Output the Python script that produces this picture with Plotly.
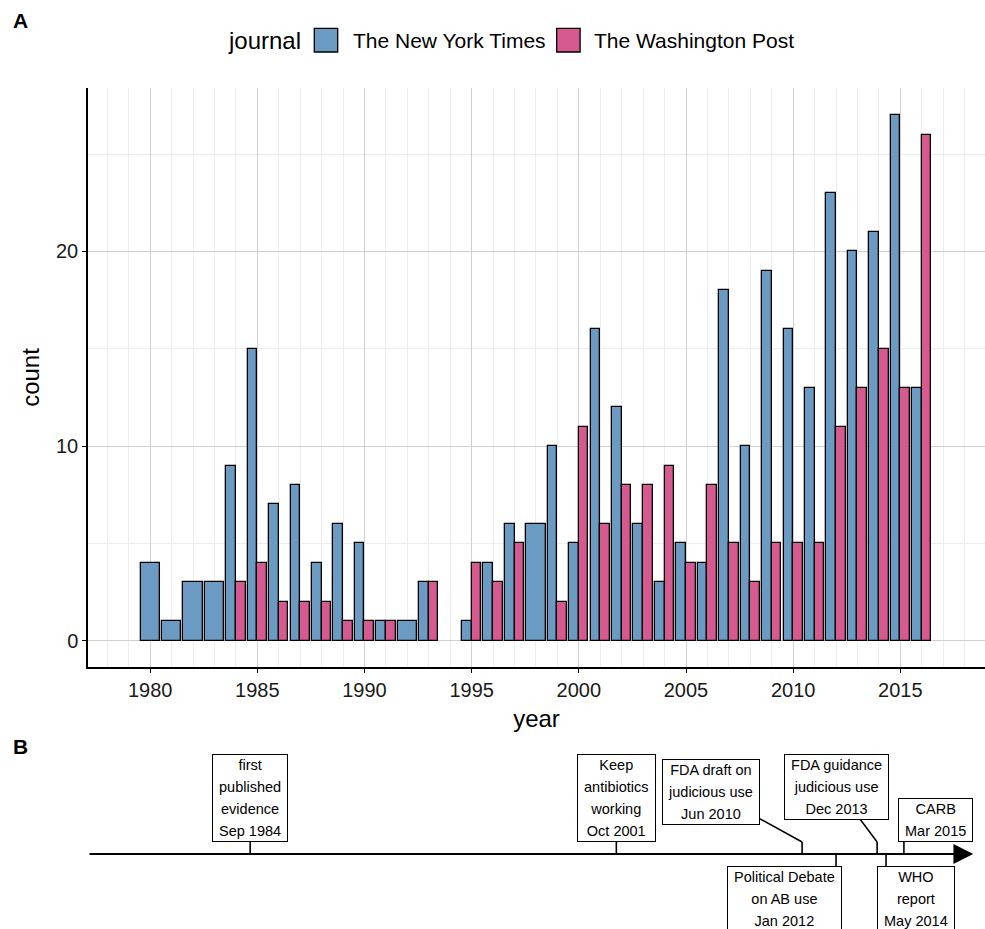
import plotly.graph_objects as go

# ---------------- data ----------------
years = list(range(1980, 2017))
nyt = [4, 1, 3, 3, 9, 15, 7, 8, 4, 6, 5, 1, 1, 3, 0, 1, 4, 6, 6, 10,
       5, 16, 12, 6, 3, 5, 4, 18, 10, 19, 16, 13, 23, 20, 21, 27, 13]
wapo = [0, 0, 0, 0, 3, 4, 2, 2, 2, 1, 1, 1, 0, 3, 0, 4, 3, 5, 0, 2,
        11, 6, 8, 8, 9, 4, 8, 5, 3, 5, 5, 5, 11, 13, 15, 13, 26]
journals = ["The New York Times", "The Washington Post"]

event_labels = [["first", "published", "evidence"],
                ["Keep", "antibiotics", "working"],
                ["FDA draft on", "judicious use"],
                ["Political Debate", "on AB use"],
                ["FDA guidance", "judicious use"],
                ["WHO", "report"],
                ["CARB"]]
event_month_names = ["Sep", "Oct", "Jun", "Jan", "Dec", "May", "Mar"]
event_years = [1984, 2001, 2010, 2012, 2013, 2014, 2015]

# ---------------- style ----------------
colors = ["#6B9BC3", "#D6598F"]
FONT = "Liberation Sans, Arial, sans-serif"
MONTHS = ["Jan", "Feb", "Mar", "Apr", "May", "Jun", "Jul", "Aug", "Sep", "Oct", "Nov", "Dec"]
# label placement: side (+1 above / -1 below), x shift px, arrow offsets (None = straight tick)
label_side = [1, 1, 1, -1, 1, -1, 1]
label_xshift = [0, 0, 0, -52, 0, 30, 32]
label_arrow = [None, None, (-91, -50), None, (-41, -55), None, None]
TICK = 12
XR = [1977.1, 2018.95]
ARROW_END = 2018.4

W, H = 985, 929
ML, MR, MT, MB = 88, 0, 88, 0
PH = H - MT - MB
main_bottom = (H - 667) / PH
tl_top = 210 / PH


def px(x):
    return (x - ML) / (W - ML - MR)


def py(y):
    return (H - y) / PH


fig = go.Figure()

# ---- bars, dodged like ggplot (full width when only one journal in a year) ----
BW = 0.9
series = [nyt, wapo]
for k, vals in enumerate(series):
    xs, ys, offs, wids = [], [], [], []
    for i, yr in enumerate(years):
        v = vals[i]
        if v <= 0:
            continue
        both = nyt[i] > 0 and wapo[i] > 0
        xs.append(yr)
        ys.append(v)
        if both:
            offs.append(-BW / 2 if k == 0 else 0)
            wids.append(BW / 2)
        else:
            offs.append(-BW / 2)
            wids.append(BW)
    fig.add_trace(go.Bar(x=xs, y=ys, offset=offs, width=wids, name=journals[k],
                         marker=dict(color=colors[k], line=dict(color="black", width=1.3)),
                         showlegend=False, xaxis="x", yaxis="y"))

# ---- timeline ----
event_x = [y + (MONTHS.index(m)) / 12 for y, m in zip(event_years, event_month_names)]
tx, ty = [], []
for x, s in zip(event_x, label_side):
    tx += [x, x, None]
    ty += [0, s * TICK, None]
fig.add_trace(go.Scatter(x=tx, y=ty, mode="lines", line=dict(color="black", width=1.6),
                         showlegend=False, hoverinfo="skip", xaxis="x2", yaxis="y2"))

annotations = []
# main timeline arrow
annotations.append(dict(x=ARROW_END, y=0, xref="x2", yref="y2", ax=XR[0], ay=0,
                        axref="x2", ayref="y2", text="", showarrow=True,
                        arrowhead=2, arrowsize=2.2, arrowwidth=1.8, arrowcolor="black"))

for lab, m, yr, x, s, dx, arr in zip(event_labels, event_month_names, event_years,
                                     event_x, label_side, label_xshift, label_arrow):
    lines = lab + [f"{m} {yr}"]
    txt = "<br>".join(f'<span style="font-size:14.5px">&nbsp;{l}&nbsp;</span>' for l in lines)
    base = dict(x=x, y=s * TICK, xref="x2", yref="y2", text=txt,
                font=dict(family=FONT, size=17, color="black"),
                bgcolor="white", bordercolor="black", borderwidth=1, borderpad=2)
    if arr is None:
        base.update(showarrow=False, xanchor="center",
                    yanchor="bottom" if s > 0 else "top", xshift=dx)
    else:
        base.update(showarrow=True, ax=arr[0], ay=arr[1], arrowhead=0,
                    arrowwidth=1.5, arrowcolor="black", standoff=0)
    annotations.append(base)

# ---- custom legend ----
annotations.append(dict(x=px(226), y=py(40), xref="paper", yref="paper", text="journal",
                        showarrow=False, xanchor="left", yanchor="middle",
                        font=dict(family=FONT, size=24, color="black")))
leg_text_x = [351, 592]
for k in range(2):
    annotations.append(dict(x=px(leg_text_x[k]), y=py(40), xref="paper", yref="paper",
                            text=journals[k], showarrow=False, xanchor="left", yanchor="middle",
                            font=dict(family=FONT, size=21, color="black")))
shapes = []
sw_x = [314.3, 556.7]
for k in range(2):
    shapes.append(dict(type="rect", xref="paper", yref="paper",
                       x0=px(sw_x[k]), x1=px(sw_x[k] + 23.4), y0=py(52), y1=py(28.3),
                       fillcolor=colors[k], line=dict(color="black", width=1.3)))

# panel letters
annotations.append(dict(x=px(11), y=py(21), xref="paper", yref="paper", text="<b>A</b>",
                        showarrow=False, xanchor="left", yanchor="middle",
                        font=dict(family=FONT, size=21, color="black")))
annotations.append(dict(x=px(11), y=py(746), xref="paper", yref="paper", text="<b>B</b>",
                        showarrow=False, xanchor="left", yanchor="middle",
                        font=dict(family=FONT, size=21, color="black")))

axis_common = dict(showline=True, linecolor="black", linewidth=1.5, ticks="outside",
                   ticklen=4, tickwidth=1.2, tickcolor="black", zeroline=False,
                   gridcolor="#d0d0d0", gridwidth=1,
                   tickfont=dict(family=FONT, size=20, color="#1a1a1a"))

fig.update_layout(
    width=W, height=H,
    margin=dict(l=ML, r=MR, t=MT, b=MB),
    paper_bgcolor="white", plot_bgcolor="white",
    barmode="overlay", bargap=0,
    showlegend=False,
    font=dict(family=FONT, color="black"),
    xaxis=dict(domain=[0, 1], range=XR, anchor="y", tick0=1980, dtick=5,
               minor=dict(dtick=1, showgrid=True, gridcolor="#ededed", gridwidth=1),
               title=dict(text="year", font=dict(family=FONT, size=24), standoff=10),
               **axis_common),
    yaxis=dict(domain=[main_bottom, 1], range=[-1.35, 28.4], anchor="x", tick0=0, dtick=10,
               minor=dict(dtick=5, showgrid=True, gridcolor="#ededed", gridwidth=1),
               title=dict(text="count", font=dict(family=FONT, size=24), standoff=10),
               **axis_common),
    xaxis2=dict(domain=[0, 1], range=XR, anchor="y2", visible=False),
    yaxis2=dict(domain=[0, tl_top], range=[-75, 135], anchor="x2", visible=False),
    annotations=annotations,
    shapes=shapes,
)

fig.write_html("out.html", config={"displayModeBar": False},
               post_script="document.body.style.margin='0';document.body.style.overflow='hidden';")
